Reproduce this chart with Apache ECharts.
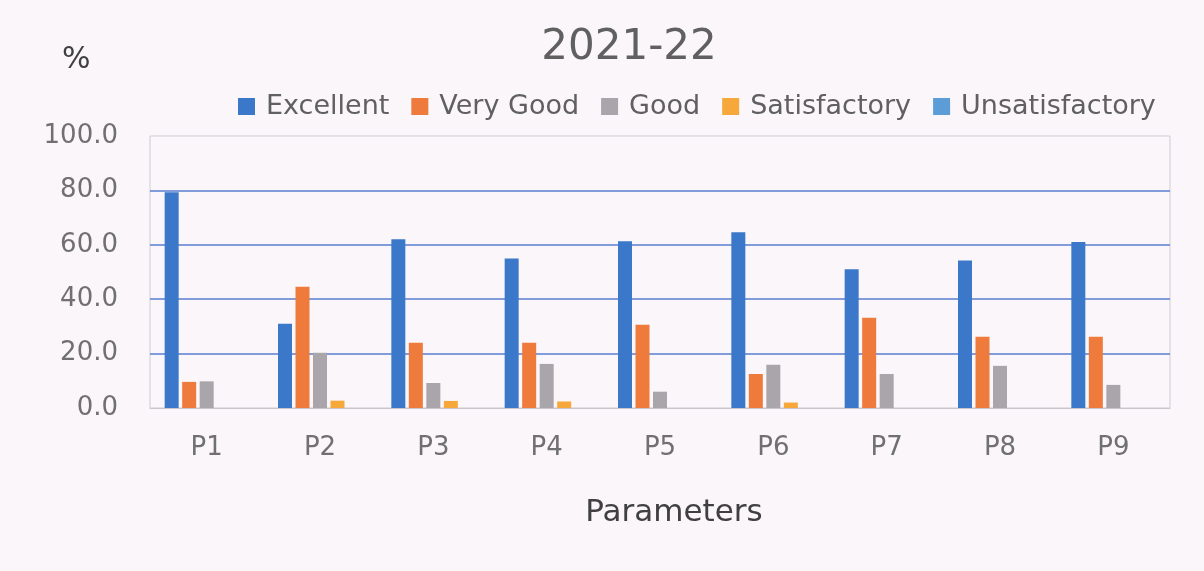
<!DOCTYPE html>
<html>
<head>
<meta charset="utf-8">
<script src="https://cdn.jsdelivr.net/npm/echarts@6/dist/echarts.min.js"></script>
<style>
html, body { margin: 0; padding: 0; background: #faf6fa; }
#main { width: 1204px; height: 571px; }
</style>
</head>
<body>
<div id="main"></div>
<script>
var dom = document.getElementById('main');
var myChart = echarts.init(dom);

var categories = ['P1', 'P2', 'P3', 'P4', 'P5', 'P6', 'P7', 'P8', 'P9'];
var seriesNames = ['Excellent', 'Very Good', 'Good', 'Satisfactory', 'Unsatisfactory'];
var excellent = [79.3, 31.0, 62.0, 55.0, 61.3, 64.6, 51.0, 54.2, 61.0];
var veryGood = [9.6, 44.6, 24.0, 24.0, 30.6, 12.5, 33.2, 26.2, 26.2];
var good = [9.8, 20.3, 9.2, 16.2, 6.0, 15.9, 12.5, 15.5, 8.5];
var satisfactory = [0, 2.7, 2.6, 2.4, 0, 2.0, 0, 0, 0];
var unsatisfactory = [0, 0, 0, 0, 0, 0, 0, 0, 0];
var colors = ['#3b78c9', '#ee7b3c', '#a9a5aa', '#f6a93a', '#5c9dd8'];

var values = [excellent, veryGood, good, satisfactory, unsatisfactory];
var font = '"DejaVu Sans", sans-serif';
var gridBlue = '#5a7ed0';

var series = seriesNames.map(function (name, i) {
    return {
        name: name,
        type: 'bar',
        barWidth: 14,
        barGap: '25%',
        itemStyle: { color: colors[i] },
        data: values[i]
    };
});

option = {
    backgroundColor: '#faf6fa',
    textStyle: { fontFamily: font },
    title: [{
        text: '2021-22',
        left: 624,
        top: 22,
        textAlign: 'center',
        textStyle: { fontSize: 42, fontWeight: 'normal', color: '#606060', fontFamily: font }
    }, {
        text: '%',
        left: 57,
        top: 40,
        textStyle: { fontSize: 30, fontWeight: 'normal', color: '#404040', fontFamily: font }
    }],
    legend: {
        data: seriesNames,
        left: 233,
        top: 88,
        icon: 'rect',
        itemWidth: 17,
        itemHeight: 17,
        itemGap: 22,
        textStyle: { fontSize: 27, color: '#606060', fontFamily: font, padding: [0, 0, 0, 6] }
    },
    grid: {
        left: 150,
        right: 34,
        top: 136,
        bottom: 163,
        show: true,
        borderColor: '#cfcbd2',
        borderWidth: 1,
        backgroundColor: 'transparent'
    },
    xAxis: {
        type: 'category',
        data: categories,
        name: 'Parameters',
        nameLocation: 'middle',
        nameGap: 89,
        nameTextStyle: { fontSize: 31, color: '#404040', fontFamily: font, padding: [0, 0, 0, 28] },
        axisLine: { lineStyle: { color: '#c9c5cc' } },
        axisTick: { show: false },
        axisLabel: { fontSize: 26, color: '#707070', margin: 27, fontFamily: font }
    },
    yAxis: {
        type: 'value',
        min: 0,
        max: 100,
        interval: 20,
        axisLine: { show: false },
        axisTick: { show: false },
        axisLabel: {
            fontSize: 26,
            color: '#707070',
            margin: 32,
            fontFamily: font,
            formatter: function (v) { return v.toFixed(1); }
        },
        splitLine: {
            lineStyle: {
                color: ['transparent', gridBlue, gridBlue, gridBlue, gridBlue, 'transparent'],
                width: 1.5
            }
        }
    },
    series: series
};

if (option && typeof option === 'object') {
    myChart.setOption(option, true);
}
</script>
</body>
</html>
